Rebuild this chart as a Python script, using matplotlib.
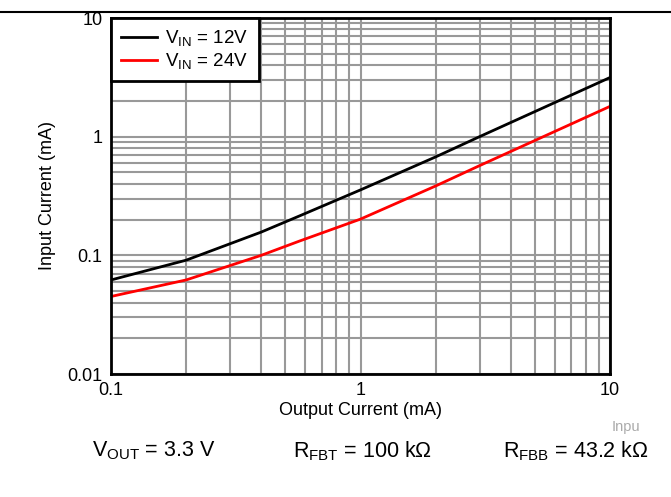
import matplotlib
matplotlib.use("Agg")
import matplotlib.pyplot as plt
from matplotlib.lines import Line2D

plt.rcParams['font.family'] = ['Liberation Sans', 'DejaVu Sans']
plt.rcParams['mathtext.fontset'] = 'custom'
plt.rcParams['mathtext.rm'] = 'Liberation Sans'
plt.rcParams['mathtext.it'] = 'Liberation Sans:italic'

iout = [0.1, 0.2, 0.4, 0.57, 1.0, 2.0, 3.0, 10.0]
iin_12v = [0.062, 0.091, 0.157, 0.215, 0.356, 0.675, 1.0, 3.15]
iin_24v = [0.045, 0.062, 0.100, 0.132, 0.202, 0.384, 0.57, 1.80]

x_ticks = [0.1, 1, 10]
x_ticklabels = ['0.1', '1', '10']
y_ticks = [0.01, 0.1, 1, 10]
y_ticklabels = ['0.01', '0.1', '1', '10']

fig = plt.figure(figsize=(6.71, 4.97), dpi=100)
ax = fig.add_axes([111/671, 1-374/497, (610-111)/671, (374-18)/497])
ax.set_xscale('log')
ax.set_yscale('log')
ax.set_xlim(0.1, 10)
ax.set_ylim(0.01, 10)

ax.grid(True, which='both', color='#999999', linewidth=1.5)
ax.set_axisbelow(True)

ax.plot(iout, iin_12v, color='black', linewidth=2, label=r'V$_{\mathrm{IN}}$ = 12V', zorder=3)
ax.plot(iout, iin_24v, color='#ff0000', linewidth=2, label=r'V$_{\mathrm{IN}}$ = 24V', zorder=3)

ax.set_xticks(x_ticks)
ax.set_xticklabels(x_ticklabels)
ax.set_yticks(y_ticks)
ax.set_yticklabels(y_ticklabels)
ax.tick_params(which='both', length=0, labelsize=13, pad=6)
ax.xaxis.set_minor_formatter(plt.NullFormatter())
ax.yaxis.set_minor_formatter(plt.NullFormatter())

for s in ax.spines.values():
    s.set_linewidth(2)
    s.set_color('black')
    s.set_zorder(5)

ax.set_xlabel('Output Current (mA)', fontsize=13, labelpad=2)
ax.set_ylabel('Input Current (mA)', fontsize=13, labelpad=8)

leg = ax.legend(loc='upper left', fontsize=13.5, frameon=True, fancybox=False,
                borderaxespad=0, handlelength=1.9, handletextpad=0.45,
                borderpad=0.55, labelspacing=0.15)
leg.get_frame().set_edgecolor('black')
leg.get_frame().set_linewidth(2)
leg.get_frame().set_facecolor('white')
leg.get_frame().set_alpha(1)
leg.set_zorder(6)

fig.add_artist(Line2D([0, 1], [1-12/497, 1-12/497], color='black', linewidth=1.5,
                      transform=fig.transFigure))

fig.text(612/671, 1-427/497, 'Inpu', fontsize=10.5, color='#aaaaaa', va='center', ha='left')
fig.text(92/671, 1-451/497, r'V$_{\mathrm{OUT}}$ = 3.3 V', fontsize=15.5, va='center', ha='left')
fig.text(293/671, 1-451/497, r'R$_{\mathrm{FBT}}$ = 100 k$\Omega$', fontsize=15.5, va='center', ha='left')
fig.text(503/671, 1-451/497, r'R$_{\mathrm{FBB}}$ = 43.2 k$\Omega$', fontsize=15.5, va='center', ha='left')

fig.savefig('out.png', dpi=100)
